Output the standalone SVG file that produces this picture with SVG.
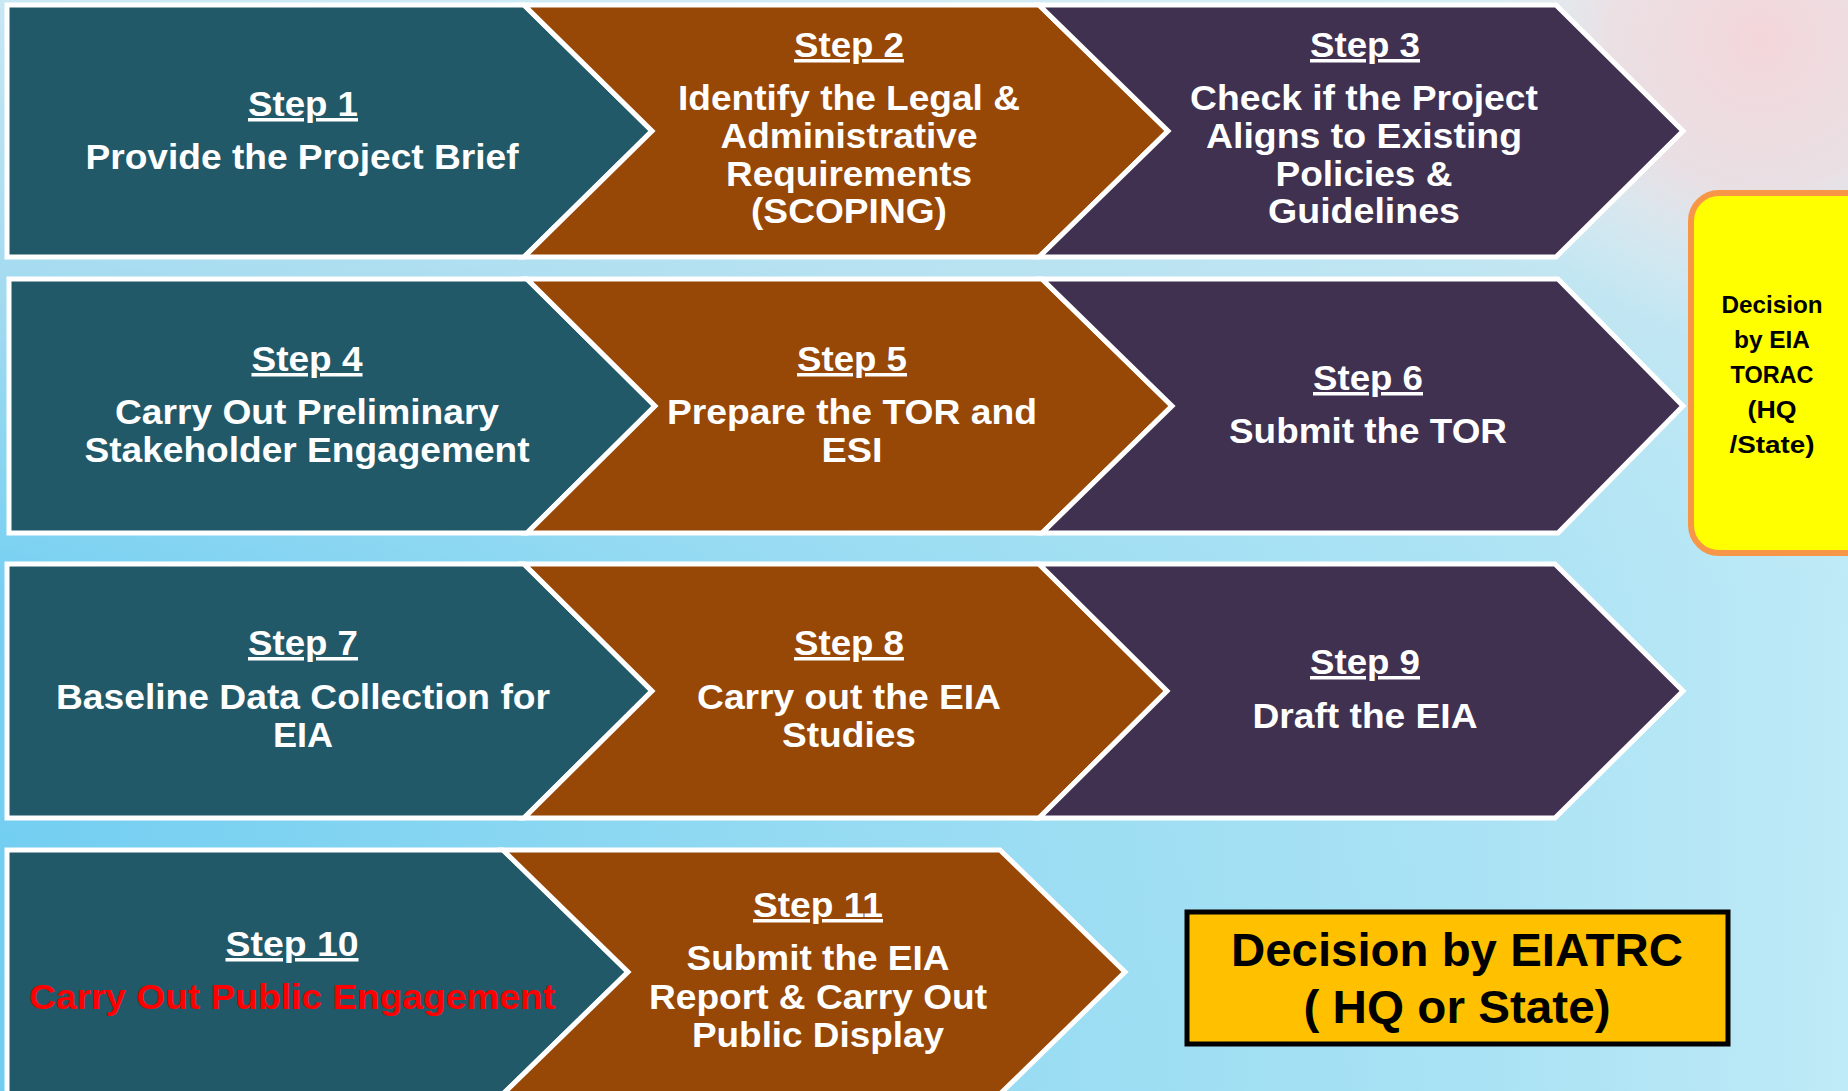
<svg xmlns="http://www.w3.org/2000/svg" width="1848" height="1091" viewBox="0 0 1848 1091">
<defs>
<linearGradient id="bgH" x1="0" y1="0" x2="1" y2="0">
<stop offset="0" stop-color="#6fcdf1"/>
<stop offset="0.45" stop-color="#93daf2"/>
<stop offset="0.8" stop-color="#a9e2f4"/>
<stop offset="1" stop-color="#bfeaf7"/>
</linearGradient>
<linearGradient id="bgV" x1="0" y1="0" x2="0" y2="1">
<stop offset="0" stop-color="#e6f1f4" stop-opacity="0.75"/>
<stop offset="0.3" stop-color="#cfe6ef" stop-opacity="0.5"/>
<stop offset="0.55" stop-color="#b8e6f5" stop-opacity="0.1"/>
<stop offset="1" stop-color="#b8e6f5" stop-opacity="0"/>
</linearGradient>
<radialGradient id="pink" cx="1760" cy="40" r="300" gradientUnits="userSpaceOnUse">
<stop offset="0" stop-color="#f3d6da"/>
<stop offset="0.5" stop-color="#f0dde0" stop-opacity="0.8"/>
<stop offset="1" stop-color="#e8eef2" stop-opacity="0"/>
</radialGradient>
<style>
.sh{stroke:#ffffff;stroke-width:5;stroke-linejoin:miter}
.teal{fill:#225968}
.brown{fill:#974706}
.purple{fill:#403151}
.t{font-family:"Liberation Sans",Arial,sans-serif;font-weight:bold;font-size:35px;fill:#ffffff;text-anchor:middle}
.st{text-decoration:underline}
.red{fill:#ff0000}
.y{font-family:"Liberation Sans",Arial,sans-serif;font-weight:bold;font-size:24px;fill:#000000;text-anchor:middle}
.d{font-family:"Liberation Sans",Arial,sans-serif;font-weight:bold;font-size:46px;fill:#000000;text-anchor:middle}
</style>
</defs>
<rect x="0" y="0" width="1848" height="1091" fill="url(#bgH)"/>
<rect x="0" y="0" width="1848" height="1091" fill="url(#bgV)"/>
<rect x="1300" y="0" width="548" height="400" fill="url(#pink)"/>

<g id="step1">
<polygon class="sh teal" points="7,5 524,5 652,131 524,257 7,257"/>
<text class="t st" x="303" y="116" textLength="110" lengthAdjust="spacingAndGlyphs">Step 1</text>
<text class="t" x="302" y="169" textLength="433" lengthAdjust="spacingAndGlyphs">Provide the Project Brief</text>
</g>
<g id="step2">
<polygon class="sh brown" points="524,5 1039,5 1168,131 1039,257 524,257 652,131"/>
<text class="t st" x="849" y="57" textLength="110" lengthAdjust="spacingAndGlyphs">Step 2</text>
<text class="t" x="849" y="110" textLength="342" lengthAdjust="spacingAndGlyphs">Identify the Legal &amp;</text>
<text class="t" x="849" y="148" textLength="257" lengthAdjust="spacingAndGlyphs">Administrative</text>
<text class="t" x="849" y="186" textLength="246" lengthAdjust="spacingAndGlyphs">Requirements</text>
<text class="t" x="849" y="223" textLength="196" lengthAdjust="spacingAndGlyphs">(SCOPING)</text>
</g>
<g id="step3">
<polygon class="sh purple" points="1039,5 1556,5 1683,131 1556,257 1039,257 1168,131"/>
<text class="t st" x="1365" y="57" textLength="110" lengthAdjust="spacingAndGlyphs">Step 3</text>
<text class="t" x="1364" y="110" textLength="348" lengthAdjust="spacingAndGlyphs">Check if the Project</text>
<text class="t" x="1364" y="148" textLength="316" lengthAdjust="spacingAndGlyphs">Aligns to Existing</text>
<text class="t" x="1364" y="186" textLength="177" lengthAdjust="spacingAndGlyphs">Policies &amp;</text>
<text class="t" x="1364" y="223" textLength="192" lengthAdjust="spacingAndGlyphs">Guidelines</text>
</g>

<g id="step4">
<polygon class="sh teal" points="9,279 527,279 655,406 527,533 9,533"/>
<text class="t st" x="307" y="371" textLength="111" lengthAdjust="spacingAndGlyphs">Step 4</text>
<text class="t" x="307" y="424" textLength="384" lengthAdjust="spacingAndGlyphs">Carry Out Preliminary</text>
<text class="t" x="307" y="462" textLength="445" lengthAdjust="spacingAndGlyphs">Stakeholder Engagement</text>
</g>
<g id="step5">
<polygon class="sh brown" points="527,279 1042,279 1172,406 1042,533 527,533 655,406"/>
<text class="t st" x="852" y="371" textLength="110" lengthAdjust="spacingAndGlyphs">Step 5</text>
<text class="t" x="852" y="424" textLength="370" lengthAdjust="spacingAndGlyphs">Prepare the TOR and</text>
<text class="t" x="852" y="462" textLength="61" lengthAdjust="spacingAndGlyphs">ESI</text>
</g>
<g id="step6">
<polygon class="sh purple" points="1042,279 1558,279 1683,406 1558,533 1042,533 1172,406"/>
<text class="t st" x="1368" y="390" textLength="110" lengthAdjust="spacingAndGlyphs">Step 6</text>
<text class="t" x="1368" y="443" textLength="278" lengthAdjust="spacingAndGlyphs">Submit the TOR</text>
</g>

<g id="step7">
<polygon class="sh teal" points="7,564 524,564 652,691 524,818 7,818"/>
<text class="t st" x="303" y="655" textLength="110" lengthAdjust="spacingAndGlyphs">Step 7</text>
<text class="t" x="303" y="709" textLength="494" lengthAdjust="spacingAndGlyphs">Baseline Data Collection for</text>
<text class="t" x="303" y="747" textLength="60" lengthAdjust="spacingAndGlyphs">EIA</text>
</g>
<g id="step8">
<polygon class="sh brown" points="524,564 1039,564 1167,691 1039,818 524,818 652,691"/>
<text class="t st" x="849" y="655" textLength="110" lengthAdjust="spacingAndGlyphs">Step 8</text>
<text class="t" x="849" y="709" textLength="304" lengthAdjust="spacingAndGlyphs">Carry out the EIA</text>
<text class="t" x="849" y="747" textLength="134" lengthAdjust="spacingAndGlyphs">Studies</text>
</g>
<g id="step9">
<polygon class="sh purple" points="1039,564 1555,564 1683,691 1555,818 1039,818 1167,691"/>
<text class="t st" x="1365" y="674" textLength="110" lengthAdjust="spacingAndGlyphs">Step 9</text>
<text class="t" x="1365" y="728" textLength="225" lengthAdjust="spacingAndGlyphs">Draft the EIA</text>
</g>

<g id="step10">
<polygon class="sh teal" points="7,850 503,850 628,972 503,1094 7,1094"/>
<text class="t st" x="292" y="956" textLength="133" lengthAdjust="spacingAndGlyphs">Step 10</text>
<text class="t red" x="292" y="1009" textLength="526" lengthAdjust="spacingAndGlyphs">Carry Out Public Engagement</text>
</g>
<g id="step11">
<polygon class="sh brown" points="503,850 1000,850 1125,972 1000,1094 503,1094 628,972"/>
<text class="t st" x="818" y="917" textLength="130" lengthAdjust="spacingAndGlyphs">Step 11</text>
<text class="t" x="818" y="970" textLength="263" lengthAdjust="spacingAndGlyphs">Submit the EIA</text>
<text class="t" x="818" y="1009" textLength="338" lengthAdjust="spacingAndGlyphs">Report &amp; Carry Out</text>
<text class="t" x="818" y="1047" textLength="252" lengthAdjust="spacingAndGlyphs">Public Display</text>
</g>

<g id="torac-decision">
<rect x="1691" y="193" width="200" height="360" rx="28" ry="28" fill="#ffff00" stroke="#f79646" stroke-width="6"/>
<text class="y" x="1772" y="313" textLength="101" lengthAdjust="spacingAndGlyphs">Decision</text>
<text class="y" x="1772" y="348" textLength="76" lengthAdjust="spacingAndGlyphs">by EIA</text>
<text class="y" x="1772" y="383" textLength="83" lengthAdjust="spacingAndGlyphs">TORAC</text>
<text class="y" x="1772" y="418" textLength="49" lengthAdjust="spacingAndGlyphs">(HQ</text>
<text class="y" x="1772" y="453" textLength="85" lengthAdjust="spacingAndGlyphs">/State)</text>
</g>

<g id="eiatrc-decision">
<rect x="1187" y="912" width="541" height="132" fill="#ffc000" stroke="#000000" stroke-width="5"/>
<text class="d" x="1457" y="966" textLength="452" lengthAdjust="spacingAndGlyphs">Decision by EIATRC</text>
<text class="d" x="1457" y="1023" textLength="307" lengthAdjust="spacingAndGlyphs">( HQ or State)</text>
</g>

<g id="connectors"></g>
</svg>
